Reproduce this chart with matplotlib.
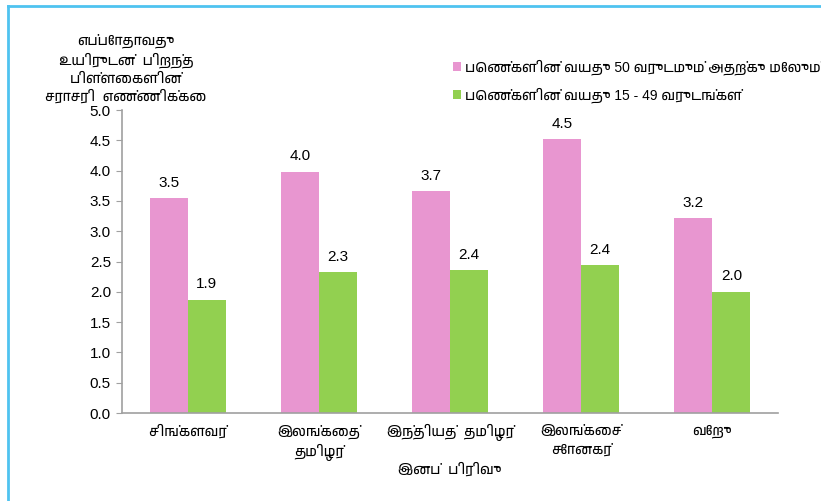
import matplotlib
matplotlib.use("Agg")
import matplotlib.pyplot as plt
from matplotlib import font_manager
import numpy as np

# ethnic groups (x categories)
groups = ["சிங்களவர்", "இலங்கைத்\nதமிழர்", "இந்தியத்  தமிழர்", "இலங்கைச்\nசோனகர்", "வேறு"]
# women aged 50 and over / women aged 15-49
older = [3.54, 3.98, 3.66, 4.52, 3.22]
younger = [1.87, 2.32, 2.36, 2.44, 2.0]
series_names = ["பெண்களின் வயது 50 வருடமும் அதற்கு மேலும்",
                "பெண்களின் வயது 15 - 49 வருடங்கள்"]
ylabel = "எப்போதாவது\nஉயிருடன்  பிறந்த\nபிள்ளைகளின்\nசராசரி  எண்ணிக்கை"
xlabel = "இனப்  பிரிவு"
yticks = [0.0, 0.5, 1.0, 1.5, 2.0, 2.5, 3.0, 3.5, 4.0, 4.5, 5.0]

# Latin digits from Liberation Sans, Tamil glyphs from a Tamil font if installed
fams = ["Liberation Sans"]
tamil = sorted({f.name for f in font_manager.fontManager.ttflist if "Tamil" in f.name})
fams += tamil[:1] + ["DejaVu Sans"]
plt.rcParams["font.family"] = fams

pink = "#E896D0"
green = "#92D050"

fig = plt.figure(figsize=(8.21, 5.01), dpi=100)
ax = fig.add_axes([0.1486, 0.1756, 0.799, 0.6048])

x = np.arange(len(groups))
w = 0.29
b1 = ax.bar(x - w / 2, older, w, color=pink, label=series_names[0])
b2 = ax.bar(x + w / 2, younger, w, color=green, label=series_names[1])

for bars, vals in ((b1, older), (b2, younger)):
    for r, v in zip(bars, vals):
        ax.annotate("%.1f" % v, (r.get_x() + r.get_width() / 2, v),
                    xytext=(0, 6), textcoords="offset points",
                    ha="center", va="bottom", fontsize=11)

ax.set_xlim(-0.5, len(groups) - 0.5)
ax.set_ylim(0, 5.0)
ax.set_yticks(yticks)
ax.set_yticklabels(["%.1f" % t for t in yticks], fontsize=11)
ax.set_xticks(x)
ax.set_xticklabels(groups, fontsize=10, linespacing=1.4)
ax.tick_params(axis="x", length=0, pad=8)
ax.tick_params(axis="y", length=4, color="#A0A0A0", pad=4)
for s in ("top", "right"):
    ax.spines[s].set_visible(False)
for s in ("left", "bottom"):
    ax.spines[s].set_color("#A0A0A0")
    ax.spines[s].set_linewidth(1.2)

fig.text(126 / 821, 1 - 33 / 501, ylabel, ha="center", va="top",
         fontsize=10, linespacing=1.35)
fig.text(450 / 821, 1 - 470 / 501, xlabel, ha="center", va="center", fontsize=10)

ax.legend(loc="upper left", bbox_to_anchor=(446 / 821, 1 - 52 / 501),
          bbox_transform=fig.transFigure, frameon=False, fontsize=10,
          handlelength=0.6, handleheight=0.6, handletextpad=0.3,
          labelspacing=0.9, borderpad=0)

# light blue frame lines at top and left
fig.add_artist(plt.Line2D([8 / 821, 1], [1 - 6 / 501, 1 - 6 / 501],
                          transform=fig.transFigure, color="#4FC3F0", lw=2))
fig.add_artist(plt.Line2D([8 / 821, 8 / 821], [0, 1 - 6 / 501],
                          transform=fig.transFigure, color="#4FC3F0", lw=2))

fig.savefig("out.png", dpi=100)
